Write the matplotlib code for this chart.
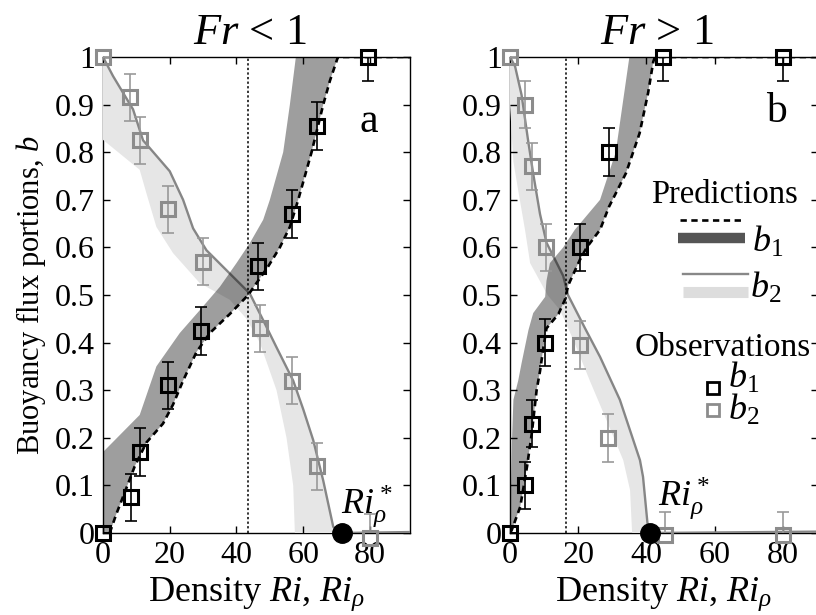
import numpy as np
import matplotlib
matplotlib.use("Agg")
import matplotlib.pyplot as plt

plt.rcParams["font.family"] = ["Liberation Serif", "DejaVu Serif"]
plt.rcParams["mathtext.fontset"] = "custom"
plt.rcParams["mathtext.rm"] = "Liberation Serif"
plt.rcParams["mathtext.it"] = "Liberation Serif:italic"

# ---- panel a: Fr < 1 ----
a_obs_b1_ri = [0, 8.5, 11, 19.5, 29.5, 46.5, 56.5, 64, 79.5]
a_obs_b1 = [0, 0.075, 0.17, 0.31, 0.425, 0.56, 0.67, 0.855, 1.0]
a_obs_b1_err = [0, 0.05, 0.05, 0.05, 0.05, 0.05, 0.05, 0.05, 0.05]
a_obs_b2_ri = [0, 8, 11, 19.5, 30, 47, 56.5, 64, 80]
a_obs_b2 = [1.0, 0.915, 0.825, 0.68, 0.57, 0.43, 0.32, 0.14, -0.01]
a_obs_b2_err = [0, 0.05, 0.05, 0.05, 0.05, 0.05, 0.05, 0.05, 0.05]

a_b1_ri = [2, 4, 6.5, 9.5, 13, 18, 21, 24, 28, 32, 38, 43.5, 46, 49.5, 53, 56, 58.5, 62.5, 66, 68, 70.4, 92]
a_b1 = [0, 0.04, 0.085, 0.14, 0.19, 0.23, 0.27, 0.32, 0.38, 0.42, 0.46, 0.5, 0.525, 0.56, 0.6,
        0.643, 0.7, 0.8, 0.9, 0.95, 1.0, 1.0]
a_band_b1_ri = [0, 0, 11, 16, 23, 29, 35, 40, 44, 48, 50, 54, 56, 57.8]
a_band_b1 = [0, 0.17, 0.248, 0.35, 0.42, 0.468, 0.517, 0.567, 0.609, 0.658, 0.7, 0.8, 0.9, 1.0]

a_b2_ri = [0, 3, 9, 12, 20, 24, 27, 31, 37, 44, 48, 52, 57, 60, 63, 66, 69, 71.5, 92]
a_b2 = [1.0, 0.96, 0.89, 0.825, 0.76, 0.70, 0.64, 0.594, 0.552, 0.503, 0.447, 0.39, 0.32, 0.26,
        0.195, 0.11, 0.013, 0.0, 0.002]
a_band_b2_ri = [57.5, 57, 55, 52, 47, 43, 38, 29, 21, 16, 13, 11, 0, 0]
a_band_b2 = [0, 0.1, 0.2, 0.3, 0.4, 0.45, 0.49, 0.525, 0.588, 0.643, 0.714, 0.763, 0.826, 1.0]

a_ri_cross = 43.5
a_ri_star = 71.5

# ---- panel b: Fr > 1 ----
b_obs_b1_ri = [0, 4.5, 6.5, 10.3, 20.5, 29, 45, 80]
b_obs_b1 = [0, 0.1, 0.23, 0.4, 0.6, 0.8, 1.0, 1.0]
b_obs_b1_err = [0, 0.05, 0.05, 0.05, 0.05, 0.05, 0.05, 0.05]
b_obs_b2_ri = [0, 4.5, 6.5, 10.7, 20.5, 28.8, 45.5, 80]
b_obs_b2 = [1.0, 0.9, 0.77, 0.6, 0.395, 0.2, -0.005, -0.005]
b_obs_b2_err = [0, 0.05, 0.05, 0.05, 0.05, 0.05, 0.05, 0.05]

b_b1_ri = [0, 0.5, 3, 5, 6.4, 7.8, 8.8, 9.8, 10.7, 14.2, 16.1, 17.1, 20.5, 22.5, 26.4, 29, 34, 38,
           40.5, 42, 42.5, 92]
b_b1 = [0, 0.006, 0.055, 0.14, 0.21, 0.3, 0.34, 0.39, 0.43, 0.46, 0.49, 0.521, 0.574, 0.6, 0.637,
        0.685, 0.756, 0.84, 0.925, 0.99, 1.0, 1.0]
b_band_b1_ri = [0, 0.3, 0.6, 1, 2.4, 3.4, 5.4, 6.8, 10.3, 10.7, 11.7, 15.6, 19, 26.4, 31, 33, 35]
b_band_b1 = [0, 0.1, 0.2, 0.28, 0.32, 0.357, 0.426, 0.462, 0.496, 0.53, 0.567, 0.6, 0.637, 0.7,
             0.8, 0.9, 1.0]

b_b2_ri = [0, 1.5, 3.4, 5.4, 6.8, 8.8, 10.7, 15.6, 17, 19.5, 22, 26.4, 32.2, 38.1, 39, 40.5, 41, 92]
b_b2 = [1.0, 0.98, 0.92, 0.82, 0.755, 0.67, 0.61, 0.54, 0.5, 0.465, 0.43, 0.37, 0.28, 0.153,
        0.118, 0.006, 0.0, 0.003]
b_band_b2_ri = [35.8, 35.2, 33.2, 28.3, 23.4, 18.6, 14.7, 11, 5.9, 4.4, 2.4, 1, 0.5, 0, 0]
b_band_b2 = [0, 0.09, 0.153, 0.237, 0.32, 0.405, 0.468, 0.5, 0.567, 0.637, 0.72, 0.78, 0.84, 0.9, 1.0]

b_ri_cross = 16.3
b_ri_star = 41

x_ticks = [0, 20, 40, 60, 80]
y_ticks = [0, 0.1, 0.2, 0.3, 0.4, 0.5, 0.6, 0.7, 0.8, 0.9, 1.0]
y_tick_labels = ["0", "0.1", "0.2", "0.3", "0.4", "0.5", "0.6", "0.7", "0.8", "0.9", "1"]

GRAY = "#8c8c8c"
LIGHT = "#e6e6e6"
DASH = (0, (2.4, 1.7))


def draw_panel(ax, b1_ri, b1, band1_ri, band1, b2_ri, b2, band2_ri, band2,
               o1_ri, o1, o1_err, o2_ri, o2, o2_err, ri_cross, ri_star, xmax):
    # b2 band: prediction curve down to Ri*, back up along the other edge
    ax.fill(np.r_[b2_ri[:-1], band2_ri], np.r_[b2[:-1], band2], color=LIGHT, lw=0, zorder=1)
    ax.plot(b2_ri, b2, color="#868686", lw=1.7, zorder=2)
    ax.fill(np.r_[band1_ri, b1_ri[:-1][::-1]], np.r_[band1, b1[:-1][::-1]],
            color="black", alpha=0.38, lw=0, zorder=3)
    ax.plot(b1_ri, b1, color="black", lw=1.9, ls=DASH, zorder=4)
    ax.axvline(ri_cross, color="black", lw=1.1, ls=(0, (1.5, 1.5)), zorder=4)

    ax.errorbar(o2_ri, o2, yerr=o2_err, fmt="none", ecolor="#999999", elinewidth=1.2,
                capsize=4, capthick=1.2, zorder=5)
    ax.errorbar(o1_ri, o1, yerr=o1_err, fmt="none", ecolor="black", elinewidth=1.2,
                capsize=4, capthick=1.2, zorder=5)
    ax.plot(o2_ri, o2, "s", mfc="none", mec=GRAY, ms=10.5, mew=2.2, clip_on=False, zorder=6)
    ax.plot(o1_ri, o1, "s", mfc="none", mec="black", ms=10.5, mew=2.2, clip_on=False, zorder=6)
    ax.plot([ri_star], [0], "o", color="black", ms=14, clip_on=False, zorder=7)

    ax.set_xlim(0, xmax)
    ax.set_ylim(0, 1)
    ax.set_xticks(x_ticks)
    ax.set_yticks(y_ticks)
    ax.set_yticklabels(y_tick_labels)
    ax.tick_params(direction="in", length=5, width=1, top=True, right=True, labelsize=23, pad=6)
    for sp in ax.spines.values():
        sp.set_linewidth(1.0)
        sp.set_zorder(0.5)
    ax.set_xlabel(r"Density $Ri$, $Ri_\rho$", fontsize=26, labelpad=4)


fig = plt.figure(figsize=(8.16, 6.15), dpi=100)
ax1 = fig.add_axes([103 / 816, 82 / 615, 307 / 816, 476 / 615])
ax2 = fig.add_axes([510 / 816, 82 / 615, 308 / 816, 476 / 615])

draw_panel(ax1, a_b1_ri, a_b1, a_band_b1_ri, a_band_b1, a_b2_ri, a_b2, a_band_b2_ri, a_band_b2,
           a_obs_b1_ri, a_obs_b1, a_obs_b1_err, a_obs_b2_ri, a_obs_b2, a_obs_b2_err,
           a_ri_cross, a_ri_star, 92)
draw_panel(ax2, b_b1_ri, b_b1, b_band_b1_ri, b_band_b1, b_b2_ri, b_b2, b_band_b2_ri, b_band_b2,
           b_obs_b1_ri, b_obs_b1, b_obs_b1_err, b_obs_b2_ri, b_obs_b2, b_obs_b2_err,
           b_ri_cross, b_ri_star, 90.3)

ax1.set_title(r"$Fr$ < 1", fontsize=32, pad=9, x=0.479)
ax2.set_title(r"$Fr$ > 1", fontsize=32, pad=9, x=0.477)
ax1.set_ylabel(r"Buoyancy flux portions, $b$", fontsize=22, labelpad=5)

ax1.text(79.6, 0.865, "a", fontsize=30, ha="center", va="center")
ax2.text(78.2, 0.885, "b", fontsize=30, ha="center", va="center")
ax1.text(71.2, 0.042, r"$Ri_\rho^*$", fontsize=26)
ax2.text(43.4, 0.059, r"$Ri_\rho^*$", fontsize=26)

# hand-built legend in panel b
ax2.text(63, 0.71, "Predictions", fontsize=23.5, ha="center", va="center")
ax2.plot([49.8, 68.3], [0.658, 0.658], color="black", lw=1.9, ls=DASH)
ax2.plot([49.2, 68.9], [0.62, 0.62], color="#555555", lw=7.5, solid_capstyle="butt")
ax2.text(70.9, 0.59, r"$b_1$", fontsize=26)
ax2.plot([50.7, 69.7], [0.544, 0.544], color="#888888", lw=1.7)
ax2.plot([50.7, 69.7], [0.506, 0.506], color="#dddddd", lw=8, solid_capstyle="butt")
ax2.text(70.3, 0.494, r"$b_2$", fontsize=26)
ax2.text(62.4, 0.39, "Observations", fontsize=24, ha="center", va="center")
ax2.plot([59.5], [0.305], "s", mfc="none", mec="black", ms=9, mew=2)
ax2.plot([59.5], [0.258], "s", mfc="none", mec=GRAY, ms=9, mew=2)
ax2.text(63.9, 0.305, r"$b_1$", fontsize=26)
ax2.text(63.9, 0.237, r"$b_2$", fontsize=26)

fig.savefig("out.png", dpi=100)
